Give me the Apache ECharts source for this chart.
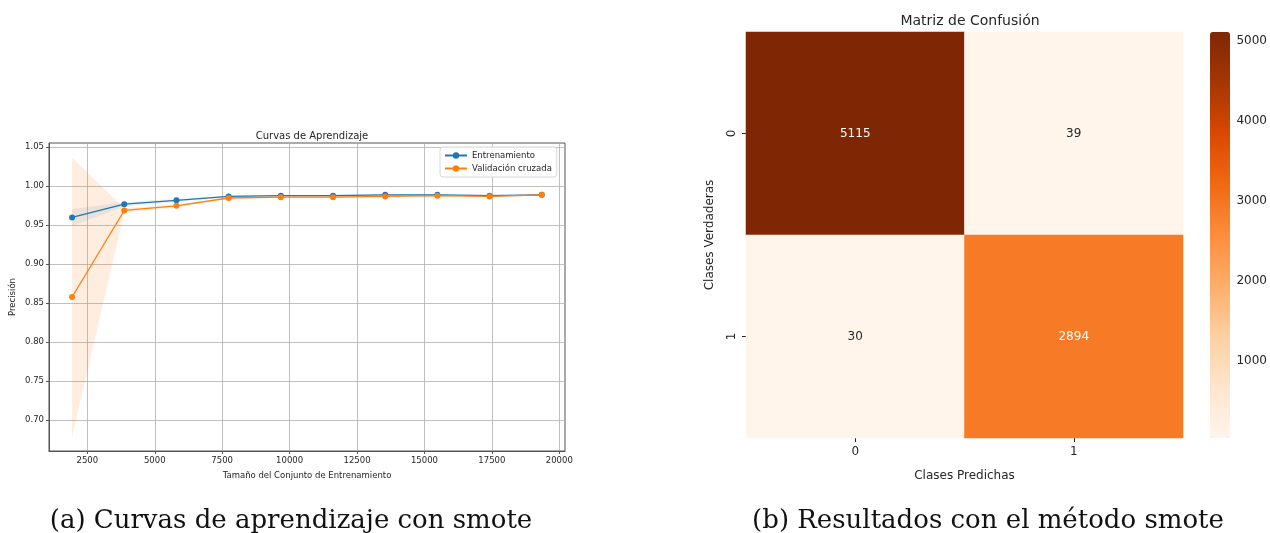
<!DOCTYPE html>
<html>
<head>
<meta charset="utf-8">
<script src="https://cdn.jsdelivr.net/npm/echarts@6/dist/echarts.min.js"></script>
<style>
  html, body { margin: 0; padding: 0; background: #fff; }
  #main { width: 1270px; height: 533px; }
</style>
</head>
<body>
<div id="main"></div>
<script>
// curvas de aprendizaje
var trainSizes = [1935, 3870, 5805, 7740, 9675, 11610, 13545, 15480, 17415, 19350];
var trainMean = [0.960, 0.977, 0.982, 0.987, 0.988, 0.988, 0.989, 0.989, 0.988, 0.989];
var trainStd = [0.011, 0.003, 0.002, 0.001, 0.001, 0.001, 0.001, 0.001, 0.001, 0.001];
var valMean = [0.858, 0.969, 0.975, 0.985, 0.986, 0.986, 0.987, 0.988, 0.987, 0.989];
var valStd = [0.179, 0.003, 0.002, 0.001, 0.001, 0.001, 0.001, 0.001, 0.001, 0.001];
var xTicks = [2500, 5000, 7500, 10000, 12500, 15000, 17500, 20000];
var yTicks = [0.70, 0.75, 0.80, 0.85, 0.90, 0.95, 1.00, 1.05];

// matriz de confusion
var classes = ['0', '1'];
var cmRows = [[5115, 39], [30, 2894]];
var cbTicks = [1000, 2000, 3000, 4000, 5000];

var orangesCmap = ['#fff5eb', '#fee6ce', '#fdd0a2', '#fdae6b', '#fd8d3c', '#f16913', '#d94801', '#a63603', '#7f2704'];

function pairs(xs, ys) {
  var out = [];
  for (var i = 0; i < xs.length; i++) out.push([xs[i], ys[i]]);
  return out;
}
// [x, media - std, media + std]
function bandRows(xs, m, s) {
  var out = [];
  for (var i = 0; i < xs.length; i++) out.push([xs[i], m[i] - s[i], m[i] + s[i]]);
  return out;
}
// poligono de la banda, se dibuja entero en el primer elemento
function bandSeries(rows, fill) {
  return {
    type: 'custom', xAxisIndex: 0, yAxisIndex: 0, data: rows, silent: true, z: 1,
    encode: { x: 0, y: [1, 2] },
    clip: true,
    renderItem: function (params, api) {
      if (params.dataIndex !== 0) return;
      var pts = [];
      for (var i = 0; i < rows.length; i++) pts.push(api.coord([rows[i][0], rows[i][2]]));
      for (var j = rows.length - 1; j >= 0; j--) pts.push(api.coord([rows[j][0], rows[j][1]]));
      return { type: 'polygon', shape: { points: pts }, style: { fill: fill } };
    }
  };
}

var cmMin = Math.min.apply(null, cmRows[0].concat(cmRows[1]));
var cmMax = Math.max.apply(null, cmRows[0].concat(cmRows[1]));
var cmData = [];
for (var r = 0; r < cmRows.length; r++) {
  for (var c = 0; c < cmRows[r].length; c++) {
    var v = cmRows[r][c];
    cmData.push({
      value: [c, r, v],
      label: { color: v > (cmMin + cmMax) / 2 ? '#ffffff' : '#262626' }
    });
  }
}

var font = 'DejaVu Sans';
var gridColor = '#b0b0b0';
var textColor = '#262626';

var chart = echarts.init(document.getElementById('main'));
var option = {
  animation: false,
  backgroundColor: '#fff',
  textStyle: { fontFamily: font },
  title: [
    { text: 'Curvas de Aprendizaje', left: 307, top: 126, textAlign: 'center',
      textStyle: { fontSize: 10, fontWeight: 'normal', color: textColor, fontFamily: font } },
    { text: 'Matriz de Confusión', left: 965, top: 9, textAlign: 'center',
      textStyle: { fontSize: 14, fontWeight: 'normal', color: textColor, fontFamily: font } },
    { text: '(a) Curvas de aprendizaje con smote', left: 286, top: 503, textAlign: 'center',
      textStyle: { fontSize: 26, fontWeight: 'normal', color: '#111', fontFamily: 'DejaVu Serif' } },
    { text: '(b) Resultados con el método smote', left: 983, top: 503, textAlign: 'center',
      textStyle: { fontSize: 26, fontWeight: 'normal', color: '#111', fontFamily: 'DejaVu Serif' } }
  ],
  legend: {
    data: ['Entrenamiento', 'Validación cruzada'],
    orient: 'vertical',
    left: 440, top: 147,
    padding: [4, 5, 4, 4],
    itemGap: 4,
    itemWidth: 22, itemHeight: 8,
    backgroundColor: 'rgba(255,255,255,0.8)',
    borderColor: '#d8d8d8', borderWidth: 1, borderRadius: 3,
    textStyle: { fontSize: 8.5, color: textColor, fontFamily: font }
  },
  grid: [
    { left: 49, top: 143, width: 516, height: 308, show: true, borderColor: '#555', borderWidth: 1, backgroundColor: 'transparent' },
    { left: 746, top: 32, width: 437, height: 406 },
    { left: 1210, top: 32, width: 20, height: 406 }
  ],
  xAxis: [
    {
      gridIndex: 0, type: 'value', min: 1079, max: 20211,
      name: 'Tamaño del Conjunto de Entrenamiento', nameLocation: 'middle', nameGap: 20,
      nameTextStyle: { fontSize: 8.5, color: textColor, fontFamily: font },
      axisLine: { show: true, onZero: false, lineStyle: { color: '#555' } },
      axisTick: { show: true, length: 3, customValues: xTicks, lineStyle: { color: '#555' } },
      axisLabel: { customValues: xTicks, fontSize: 8.5, color: textColor, margin: 5, fontFamily: font,
        formatter: function (v) { return String(v); } },
      splitLine: { show: true, lineStyle: { color: gridColor, width: 0.8 } }
    },
    {
      gridIndex: 1, type: 'category', data: classes,
      name: 'Clases Predichas', nameLocation: 'middle', nameGap: 32,
      nameTextStyle: { fontSize: 12, color: textColor, fontFamily: font },
      axisLine: { show: false },
      axisTick: { show: true, alignWithLabel: true, length: 4, lineStyle: { color: textColor } },
      axisLabel: { fontSize: 12, color: textColor, margin: 8, fontFamily: font },
      splitLine: { show: false }, splitArea: { show: false }
    },
    { gridIndex: 2, type: 'value', show: false, min: 0, max: 1 }
  ],
  yAxis: [
    {
      gridIndex: 0, type: 'value', min: 0.6606, max: 1.0555,
      name: 'Precisión', nameLocation: 'middle', nameGap: 32, nameRotate: 90,
      nameTextStyle: { fontSize: 8.5, color: textColor, fontFamily: font },
      axisLine: { show: true, lineStyle: { color: '#555' } },
      axisTick: { show: true, length: 3, customValues: yTicks, lineStyle: { color: '#555' } },
      axisLabel: { customValues: yTicks, fontSize: 8.5, color: textColor, margin: 5, fontFamily: font,
        formatter: function (v) { return v.toFixed(2); } },
      splitLine: { show: true, lineStyle: { color: gridColor, width: 0.8 } }
    },
    {
      gridIndex: 1, type: 'category', data: classes, inverse: true,
      name: 'Clases Verdaderas', nameLocation: 'middle', nameGap: 30, nameRotate: 90,
      nameTextStyle: { fontSize: 12, color: textColor, fontFamily: font },
      axisLine: { show: false },
      axisTick: { show: true, alignWithLabel: true, length: 4, lineStyle: { color: textColor } },
      axisLabel: { fontSize: 12, color: textColor, margin: 8, rotate: 90, fontFamily: font },
      splitLine: { show: false }, splitArea: { show: false }
    },
    {
      gridIndex: 2, type: 'value', position: 'right', min: cmMin, max: cmMax,
      axisLine: { show: false },
      axisTick: { show: true, length: 4, customValues: cbTicks, lineStyle: { color: textColor } },
      axisLabel: { customValues: cbTicks, fontSize: 12, color: textColor, margin: 8, fontFamily: font,
        formatter: function (v) { return String(v); } },
      splitLine: { show: false }
    }
  ],
  visualMap: {
    type: 'continuous',
    seriesIndex: 4,
    min: cmMin, max: cmMax,
    calculable: false,
    showLabel: false,
    text: ['', ''],
    left: 1210, top: 32,
    padding: 0,
    itemWidth: 20, itemHeight: 406,
    inRange: { color: orangesCmap }
  },
  series: [
    bandSeries(bandRows(trainSizes, trainMean, trainStd), 'rgba(31,119,180,0.1)'),
    bandSeries(bandRows(trainSizes, valMean, valStd), 'rgba(255,127,14,0.13)'),
    { name: 'Entrenamiento', type: 'line', xAxisIndex: 0, yAxisIndex: 0, data: pairs(trainSizes, trainMean),
      color: '#1f77b4', symbol: 'circle', symbolSize: 6, lineStyle: { width: 1.3 }, z: 3 },
    { name: 'Validación cruzada', type: 'line', xAxisIndex: 0, yAxisIndex: 0, data: pairs(trainSizes, valMean),
      color: '#ff7f0e', symbol: 'circle', symbolSize: 6, lineStyle: { width: 1.3 }, z: 4 },
    // heatmap
    { type: 'heatmap', xAxisIndex: 1, yAxisIndex: 1, data: cmData,
      label: { show: true, fontSize: 12, fontFamily: font },
      itemStyle: { borderWidth: 0 } }
  ]
};
chart.setOption(option);
</script>
</body>
</html>
